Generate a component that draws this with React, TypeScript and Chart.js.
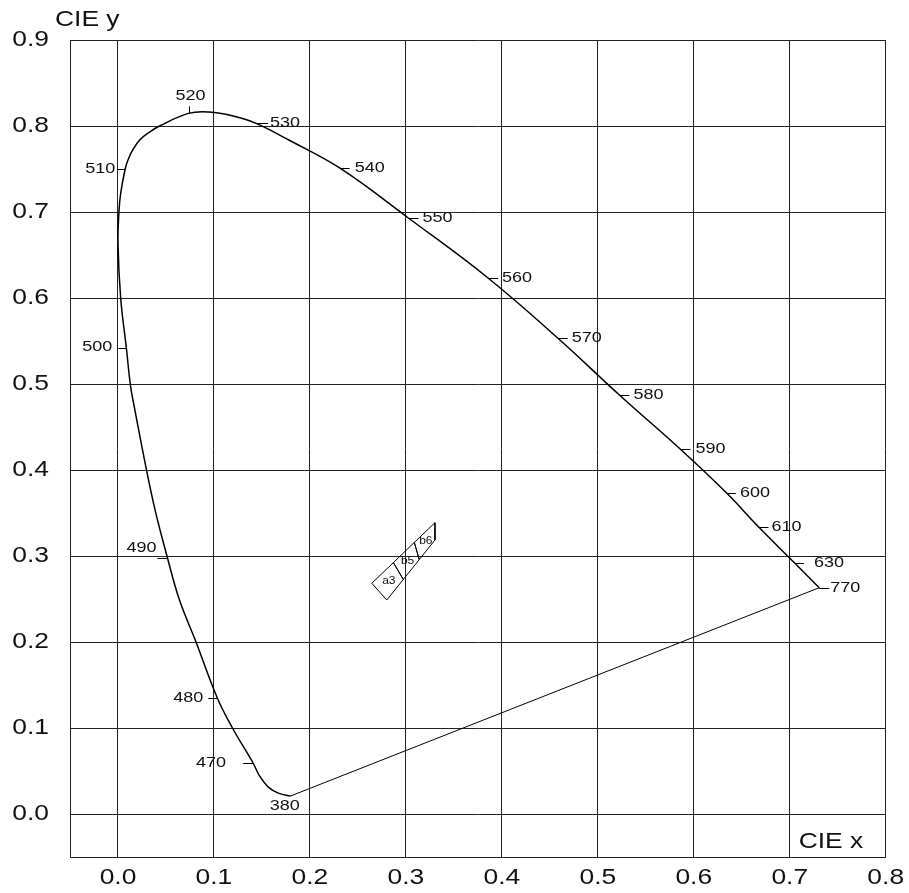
import React, { useEffect, useRef } from 'react';
import { Chart, registerables } from 'chart.js';

Chart.register(...registerables);

// ---------- data ----------
const xTickValues = [0.0, 0.1, 0.2, 0.3, 0.4, 0.5, 0.6, 0.7, 0.8];
const yTickValues = [0.0, 0.1, 0.2, 0.3, 0.4, 0.5, 0.6, 0.7, 0.8, 0.9];

// spectral locus, in wavelength order (null = unlabelled trace point)
const locusNm: (number | null)[] = [
  380, null, null, null, 470, null, 480, null, null, 490,
  null, null, null, 500, null, null, null, null, 510, null,
  null, null, null, null, 520, null, null, 530, null, 540,
  550, 560, 570, 580, 590, 600, 610, 630, 770,
];
const locusX = [
  0.1800, 0.1677, 0.1570, 0.1470, 0.1408, 0.1193, 0.1034, 0.0813, 0.0640, 0.0516,
  0.0363, 0.0156, 0.0128, 0.0087, 0.0028, 0.0000, 0.0010, 0.0028, 0.0075, 0.0104,
  0.0154, 0.0226, 0.0329, 0.0433, 0.0735, 0.0950, 0.1190, 0.1439, 0.1780, 0.2310,
  0.3026, 0.3856, 0.4582, 0.5225, 0.5861, 0.6345, 0.6674, 0.7054, 0.7307,
];
const locusY = [
  0.0210, 0.0240, 0.0310, 0.0453, 0.0593, 0.1000, 0.1352, 0.2000, 0.2490, 0.2977,
  0.3650, 0.4814, 0.5000, 0.5422, 0.6000, 0.6636, 0.7000, 0.7217, 0.7500, 0.7605,
  0.7721, 0.7837, 0.7930, 0.8000, 0.8147, 0.8163, 0.8120, 0.8031, 0.7837, 0.7512,
  0.6930, 0.6233, 0.5535, 0.4872, 0.4241, 0.3729, 0.3340, 0.2915, 0.2631,
];

// line of purples (380 nm -> 770 nm)
const purpleX = [0.1800, 0.7307];
const purpleY = [0.0210, 0.2631];

// chromaticity bins
const binNames = ['a3', 'b5', 'b6'];
const binX = [
  [0.2645, 0.2870, 0.2973, 0.2801],
  [0.2870, 0.3088, 0.3139, 0.2973],
  [0.3088, 0.3303, 0.3303, 0.3139],
];
const binY = [
  [0.2683, 0.2923, 0.2727, 0.2488],
  [0.2923, 0.3158, 0.2958, 0.2727],
  [0.3158, 0.3387, 0.3186, 0.2958],
];

// ---------- label styling (pixel offsets from the locus point) ----------
type MarkStyle = { tick: [number, number] | null; dx: number; dy: number; align: CanvasTextAlign };
const markStyle: Record<number, MarkStyle> = {
  380: { tick: null, dx: -6, dy: 10, align: 'center' },
  470: { tick: [-10, 0], dx: -27, dy: 0, align: 'right' },
  480: { tick: [-9, 0], dx: -14, dy: 0, align: 'right' },
  490: { tick: [-10, 0], dx: -11, dy: -10, align: 'right' },
  500: { tick: [-8, 0], dx: -14, dy: -1, align: 'right' },
  510: { tick: [-8, 0], dx: -10, dy: 0, align: 'right' },
  520: { tick: [0, -7], dx: 2, dy: -17, align: 'center' },
  530: { tick: [12, 0], dx: 14, dy: 0, align: 'left' },
  540: { tick: [10, 0], dx: 15, dy: 0, align: 'left' },
  550: { tick: [10, 0], dx: 14, dy: 0, align: 'left' },
  560: { tick: [10, 0], dx: 14, dy: 0, align: 'left' },
  570: { tick: [10, 0], dx: 14, dy: 0, align: 'left' },
  580: { tick: [10, 0], dx: 14, dy: 0, align: 'left' },
  590: { tick: [10, 0], dx: 15, dy: 0, align: 'left' },
  600: { tick: [9, 0], dx: 13, dy: 0, align: 'left' },
  610: { tick: [10, 0], dx: 13, dy: 0, align: 'left' },
  630: { tick: [9, 0], dx: 19, dy: 0, align: 'left' },
  770: { tick: [10, 0], dx: 11, dy: 0, align: 'left' },
};

const FONT = '"Liberation Sans", Arial, Helvetica, sans-serif';
const TEXT_STRETCH = 1.2; // the reference's lettering is horizontally widened

// widen all text drawn on the chart canvas (tick labels included)
const stretchTextPlugin = {
  id: 'stretchText',
  beforeDraw(chart: any) {
    const ctx = chart.ctx;
    if (ctx.__origFillText) return;
    const orig = ctx.fillText;
    ctx.__origFillText = orig;
    ctx.fillText = function (text: string, x: number, y: number) {
      this.save();
      this.translate(x, y);
      this.scale(TEXT_STRETCH, 1);
      orig.call(this, text, 0, 0);
      this.restore();
    };
  },
  afterDraw(chart: any) {
    const ctx = chart.ctx;
    if (ctx.__origFillText) {
      ctx.fillText = ctx.__origFillText;
      delete ctx.__origFillText;
    }
  },
};

const annotationPlugin = {
  id: 'cieAnnotations',
  afterDatasetsDraw(chart: any) {
    const { ctx, chartArea } = chart;
    const xs = chart.scales.x;
    const ys = chart.scales.y;
    ctx.save();
    ctx.strokeStyle = '#000';
    ctx.lineWidth = 1;
    ctx.fillStyle = '#111';
    ctx.font = `15px ${FONT}`;
    ctx.textBaseline = 'middle';
    locusNm.forEach((nm, i) => {
      if (nm === null) return;
      const st = markStyle[nm];
      const px = xs.getPixelForValue(locusX[i]);
      const py = ys.getPixelForValue(locusY[i]);
      if (st.tick) {
        ctx.beginPath();
        if (st.tick[1] === 0) {
          const yy = Math.round(py) + 0.5;
          ctx.moveTo(px, yy);
          ctx.lineTo(px + st.tick[0], yy);
        } else {
          const xx = Math.round(px) + 0.5;
          ctx.moveTo(xx, py);
          ctx.lineTo(xx, py + st.tick[1]);
        }
        ctx.stroke();
      }
      ctx.textAlign = st.align;
      ctx.fillText(String(nm), px + st.dx, py + st.dy);
    });

    // bin labels at cell centroids
    ctx.font = `10px ${FONT}`;
    ctx.textAlign = 'center';
    binNames.forEach((name, b) => {
      const cx = binX[b].reduce((s, v) => s + v, 0) / binX[b].length;
      const cy = binY[b].reduce((s, v) => s + v, 0) / binY[b].length;
      ctx.fillText(name, xs.getPixelForValue(cx), ys.getPixelForValue(cy));
    });

    // axis titles
    ctx.font = `22px ${FONT}`;
    ctx.textBaseline = 'alphabetic';
    ctx.textAlign = 'left';
    ctx.fillText('CIE y', chartArea.left - 15, chartArea.top - 14);
    ctx.fillText('CIE x', chartArea.right - 87, chartArea.bottom - 9);
    ctx.restore();
  },
};

export default function App() {
  const ref = useRef<HTMLCanvasElement>(null);

  useEffect(() => {
    if (!ref.current) return;
    const locusData = locusX.map((x, i) => ({ x, y: locusY[i] }));
    const purpleData = purpleX.map((x, i) => ({ x, y: purpleY[i] }));
    const binSets = binNames.map((name, b) => ({
      label: name,
      data: [...binX[b].map((x, i) => ({ x, y: binY[b][i] })), { x: binX[b][0], y: binY[b][0] }],
      showLine: true,
      borderColor: '#000',
      borderWidth: 1,
      pointRadius: 0,
      tension: 0,
      fill: false,
    }));

    const tickFont = { family: FONT, size: 22 };
    const chart = new Chart(ref.current, {
      type: 'scatter',
      data: {
        datasets: [
          {
            label: 'locus',
            data: locusData,
            showLine: true,
            borderColor: '#000',
            borderWidth: 1.5,
            pointRadius: 0,
            tension: 0.4,
            fill: false,
          },
          {
            label: 'purple',
            data: purpleData,
            showLine: true,
            borderColor: '#000',
            borderWidth: 1,
            pointRadius: 0,
            tension: 0,
            fill: false,
          },
          ...binSets,
        ],
      },
      options: {
        responsive: false,
        animation: false,
        devicePixelRatio: 1,
        layout: { padding: { top: 40, right: 20, left: 0, bottom: 0 } },
        plugins: { legend: { display: false }, tooltip: { enabled: false }, title: { display: false } },
        scales: {
          x: {
            type: 'linear',
            min: -0.05,
            max: 0.8,
            afterBuildTicks: (scale: any) => {
              scale.ticks = xTickValues.map((v) => ({ value: v }));
            },
            afterFit: (scale: any) => {
              scale.height = 36;
            },
            grid: { color: '#222', lineWidth: 1, drawTicks: false },
            border: { color: '#222', width: 1 },
            ticks: {
              font: tickFont,
              color: '#111',
              padding: 8,
              maxRotation: 0,
              autoSkip: false,
              callback: (v: any) => Number(v).toFixed(1),
            },
          },
          y: {
            type: 'linear',
            min: -0.05,
            max: 0.9,
            afterBuildTicks: (scale: any) => {
              scale.ticks = yTickValues.map((v) => ({ value: v }));
            },
            afterFit: (scale: any) => {
              scale.width = 70;
            },
            grid: { color: '#222', lineWidth: 1, drawTicks: false },
            border: { color: '#222', width: 1 },
            ticks: {
              font: tickFont,
              color: '#111',
              padding: 21,
              autoSkip: false,
              callback: (v: any) => Number(v).toFixed(1),
            },
          },
        },
      },
      plugins: [stretchTextPlugin, annotationPlugin],
    } as any);
    return () => chart.destroy();
  }, []);

  return (
    <div style={{ position: 'absolute', left: 0, top: 0, width: 909, height: 893, background: '#fff' }}>
      <canvas ref={ref} width={909} height={893} style={{ display: 'block' }} />
    </div>
  );
}
